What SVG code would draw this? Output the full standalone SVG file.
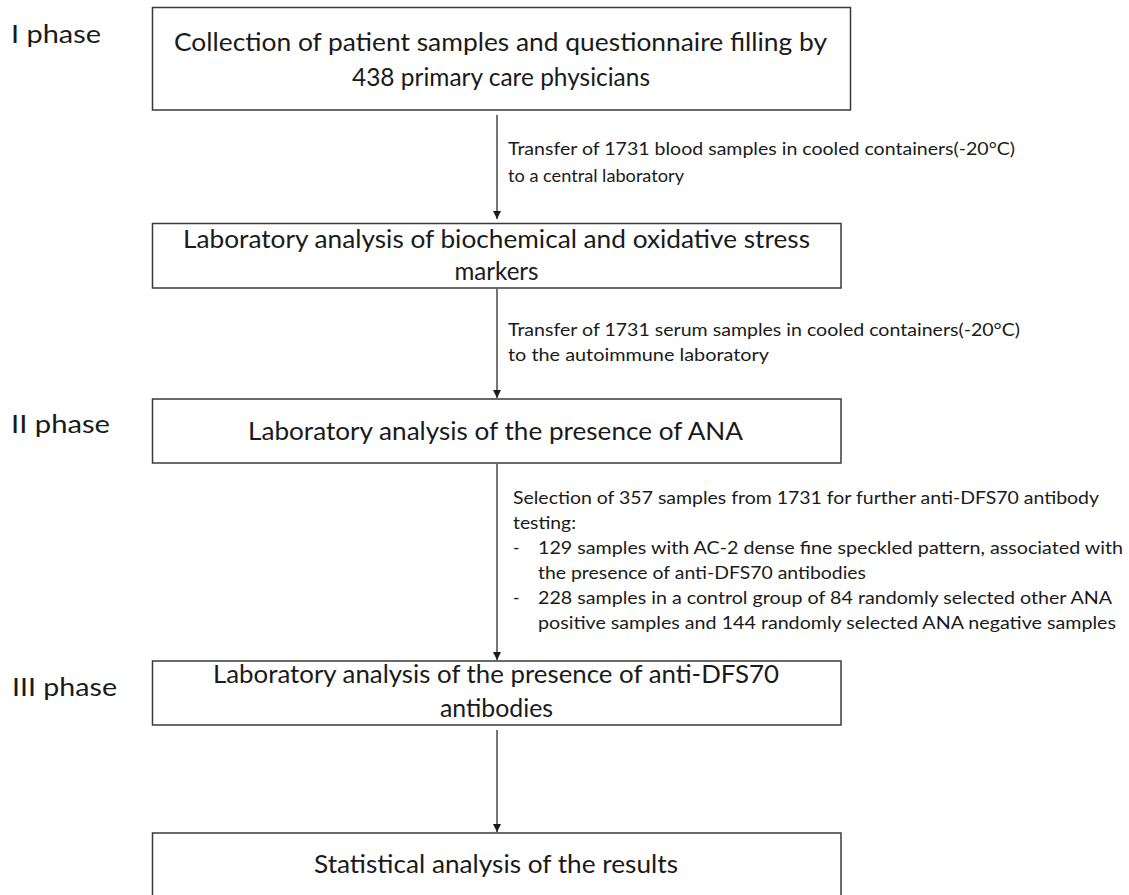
<svg xmlns="http://www.w3.org/2000/svg" width="1129" height="895" viewBox="0 0 1129 895">
<defs>
<style>
.box{fill:#fff;stroke:#3a3a3a;stroke-width:1.5}
.big{font-family:Lato,"Open Sans","Liberation Sans",sans-serif;font-size:25px;fill:#1a1a1a}
.mid{text-anchor:middle}
.lbl{font-family:Lato,"Open Sans","Liberation Sans",sans-serif;font-size:17.5px;fill:#1a1a1a}
.conn{stroke:#1a1a1a;stroke-width:1.2;fill:none;marker-end:url(#ah)}
</style>
<marker id="ah" viewBox="0 0 10 10" refX="10" refY="5" markerWidth="8" markerHeight="8" markerUnits="userSpaceOnUse" orient="auto">
<path d="M0,0 L10,5 L0,10 z" fill="#1a1a1a"/>
</marker>
</defs>
<rect width="1129" height="895" fill="#fff"/>

<g id="phase-labels">
<text class="big" x="11" y="43" textLength="90" lengthAdjust="spacingAndGlyphs">I phase</text>
<text class="big" x="11" y="433" textLength="99" lengthAdjust="spacingAndGlyphs">II phase</text>
<text class="big" x="12" y="696" textLength="105" lengthAdjust="spacingAndGlyphs">III phase</text>
</g>

<g id="node1">
<rect class="box" x="152.5" y="7.5" width="698" height="102.5"/>
<text class="big" x="174" y="51" textLength="653" lengthAdjust="spacingAndGlyphs">Collection of patient samples and questionnaire filling by</text>
<text class="big mid" x="501" y="86" textLength="298" lengthAdjust="spacingAndGlyphs">438 primary care physicians</text>
</g>

<g id="node2">
<rect class="box" x="152.5" y="223.5" width="688.5" height="64.5"/>
<text class="big" x="183" y="248" textLength="627" lengthAdjust="spacingAndGlyphs">Laboratory analysis of biochemical and oxidative stress</text>
<text class="big mid" x="496.5" y="280" textLength="84" lengthAdjust="spacingAndGlyphs">markers</text>
</g>

<g id="node3">
<rect class="box" x="152.5" y="399" width="688.5" height="64"/>
<text class="big" x="248" y="440" textLength="495" lengthAdjust="spacingAndGlyphs">Laboratory analysis of the presence of ANA</text>
</g>

<g id="node4">
<rect class="box" x="152.5" y="661" width="688.5" height="64"/>
<text class="big" x="213" y="683" textLength="566" lengthAdjust="spacingAndGlyphs">Laboratory analysis of the presence of anti-DFS70</text>
<text class="big mid" x="496.5" y="717" textLength="113" lengthAdjust="spacingAndGlyphs">antibodies</text>
</g>

<g id="node5">
<rect class="box" x="152.5" y="833" width="688.5" height="70"/>
<text class="big" x="314" y="873" textLength="364" lengthAdjust="spacingAndGlyphs">Statistical analysis of the results</text>
</g>

<g id="connectors">
<line class="conn" x1="497" y1="115" x2="497" y2="219"/>
<line class="conn" x1="497" y1="289" x2="497" y2="398"/>
<line class="conn" x1="497" y1="464" x2="497" y2="660"/>
<line class="conn" x1="497" y1="730" x2="497" y2="832"/>
</g>

<g id="connector-labels">
<text class="lbl" x="508" y="155" textLength="507" lengthAdjust="spacingAndGlyphs">Transfer of 1731 blood samples in cooled containers(-20°C)</text>
<text class="lbl" x="508" y="182" textLength="176" lengthAdjust="spacingAndGlyphs">to a central laboratory</text>
<text class="lbl" x="508" y="336" textLength="512" lengthAdjust="spacingAndGlyphs">Transfer of 1731 serum samples in cooled containers(-20°C)</text>
<text class="lbl" x="508" y="361" textLength="261" lengthAdjust="spacingAndGlyphs">to the autoimmune laboratory</text>
<text class="lbl" x="513" y="504" textLength="586" lengthAdjust="spacingAndGlyphs">Selection of 357 samples from 1731 for further anti-DFS70 antibody</text>
<text class="lbl" x="513" y="529" textLength="63" lengthAdjust="spacingAndGlyphs">testing:</text>
<text class="lbl" x="513" y="554">-</text>
<text class="lbl" x="538" y="554" textLength="585" lengthAdjust="spacingAndGlyphs">129 samples with AC-2 dense fine speckled pattern, associated with</text>
<text class="lbl" x="538" y="579" textLength="328" lengthAdjust="spacingAndGlyphs">the presence of anti-DFS70 antibodies</text>
<text class="lbl" x="513" y="604">-</text>
<text class="lbl" x="538" y="604" textLength="574" lengthAdjust="spacingAndGlyphs">228 samples in a control group of 84 randomly selected other ANA</text>
<text class="lbl" x="538" y="629" textLength="578" lengthAdjust="spacingAndGlyphs">positive samples and 144 randomly selected ANA negative samples</text>
</g>
</svg>
